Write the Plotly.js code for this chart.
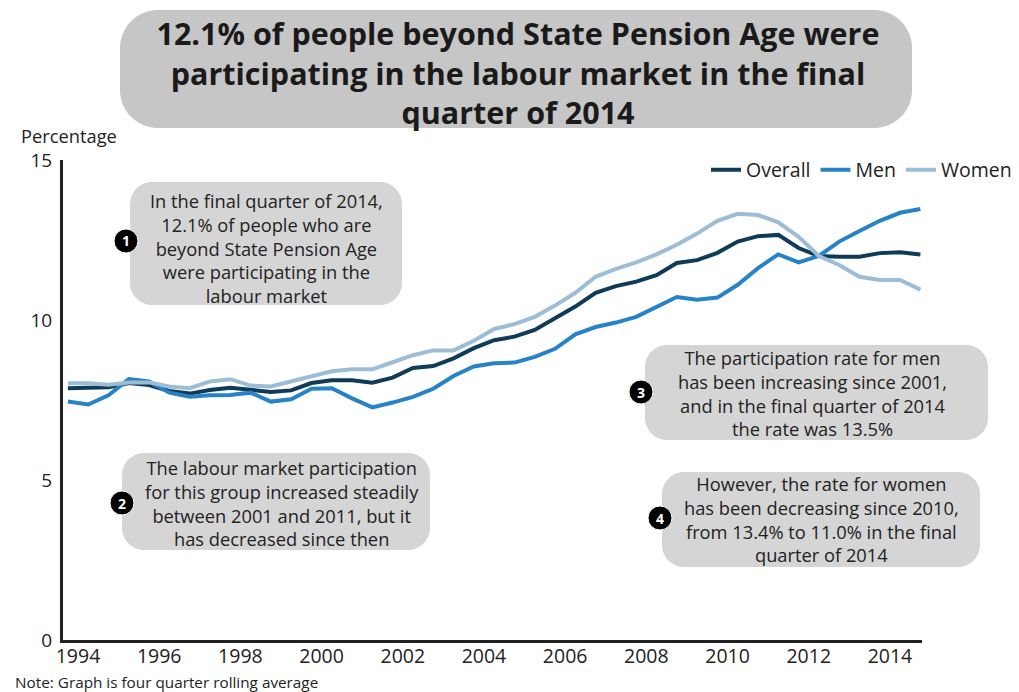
<!DOCTYPE html>
<html>
<head>
<meta charset="utf-8">
<script src="https://cdn.plot.ly/plotly-3.0.1.min.js"></script>
<style>
html,body{margin:0;padding:0;background:#fff;}
#chart{width:1019px;height:692px;}
</style>
</head>
<body>
<div id="chart"></div>
<script>
// ---- Data (half-yearly points, four quarter rolling average) ----
const years = [1993.75,1994.25,1994.75,1995.25,1995.75,1996.25,1996.75,1997.25,1997.75,1998.25,
  1998.75,1999.25,1999.75,2000.25,2000.75,2001.25,2001.75,2002.25,2002.75,2003.25,
  2003.75,2004.25,2004.75,2005.25,2005.75,2006.25,2006.75,2007.25,2007.75,2008.25,
  2008.75,2009.25,2009.75,2010.25,2010.75,2011.25,2011.75,2012.25,2012.75,2013.25,
  2013.75,2014.25,2014.75];
const overall = [7.87,7.87,7.90,8.03,7.97,7.78,7.70,7.81,7.88,7.82,
  7.75,7.80,8.03,8.12,8.12,8.04,8.20,8.50,8.56,8.80,
  9.12,9.37,9.48,9.69,10.06,10.42,10.85,11.06,11.20,11.40,
  11.78,11.87,12.10,12.45,12.62,12.66,12.25,12.00,11.98,11.98,
  12.09,12.12,12.05];
const men = [7.45,7.36,7.65,8.15,8.08,7.73,7.60,7.65,7.66,7.73,
  7.45,7.52,7.85,7.87,7.55,7.27,7.42,7.60,7.85,8.25,
  8.55,8.65,8.67,8.85,9.10,9.55,9.78,9.92,10.10,10.42,
  10.72,10.63,10.70,11.10,11.62,12.05,11.80,12.00,12.45,12.78,
  13.10,13.35,13.47];
const women = [8.02,8.02,7.98,8.05,8.05,7.92,7.87,8.08,8.15,7.95,
  7.92,8.07,8.22,8.40,8.46,8.46,8.68,8.90,9.05,9.05,
  9.35,9.72,9.87,10.10,10.45,10.85,11.35,11.60,11.80,12.05,
  12.35,12.70,13.10,13.32,13.28,13.05,12.60,12.00,11.72,11.35,
  11.25,11.25,10.95];
const seriesNames = ["Overall","Men","Women"];
const xTicks = [1994,1996,1998,2000,2002,2004,2006,2008,2010,2012,2014];
const yTicks = [0,5,10,15];

const titleLines = ["12.1% of people beyond State Pension Age were",
  "participating in the labour market in the final",
  "quarter of 2014"];
const notes = [
  ["In the final quarter of 2014,","12.1% of people who are","beyond State Pension Age","were participating in the","labour market"],
  ["The labour market participation","for this group increased steadily","between 2001 and 2011, but it","has decreased since then"],
  ["The participation rate for men","has been increasing since 2001,","and in the final quarter of 2014","the rate was 13.5%"],
  ["However, the rate for women","has been decreasing since 2010,","from 13.4% to 11.0% in the final","quarter of 2014"]
];
const yLabel = "Percentage";
const noteText = "Note: Graph is four quarter rolling average";

// ---- Layout geometry (pixels) ----
const L = 63, R = 922, T = 160, B = 640;
const W = R - L, H = B - T;
const px = v => (v - L) / W;
const py = v => (B - v) / H;
const FONT = "Open Sans, Noto Sans, sans-serif";
const TXT = "#222";

function rr(x0, y0, x1, y1, r) {
  const k = 0.5523 * r;
  const X = v => px(v).toFixed(5), Y = v => py(v).toFixed(5);
  return `M${X(x0 + r)},${Y(y0)} L${X(x1 - r)},${Y(y0)} ` +
    `C${X(x1 - r + k)},${Y(y0)} ${X(x1)},${Y(y0 + r - k)} ${X(x1)},${Y(y0 + r)} ` +
    `L${X(x1)},${Y(y1 - r)} C${X(x1)},${Y(y1 - r + k)} ${X(x1 - r + k)},${Y(y1)} ${X(x1 - r)},${Y(y1)} ` +
    `L${X(x0 + r)},${Y(y1)} C${X(x0 + r - k)},${Y(y1)} ${X(x0)},${Y(y1 - r + k)} ${X(x0)},${Y(y1 - r)} ` +
    `L${X(x0)},${Y(y0 + r)} C${X(x0)},${Y(y0 + r - k)} ${X(x0 + r - k)},${Y(y0)} ${X(x0 + r)},${Y(y0)} Z`;
}

const boxes = [
  {x0:130, y0:182, x1:402, y1:305, cx:266, cy:248, nx:126, ny:241},
  {x0:122, y0:453, x1:430, y1:550, cx:282, cy:503, nx:122, ny:503},
  {x0:645, y0:345, x1:988, y1:440, cx:812, cy:393, nx:641, ny:392},
  {x0:662, y0:472, x1:980, y1:567, cx:821, cy:519, nx:660, ny:518}
];

const shapes = [{
  type:"path", xref:"paper", yref:"paper", path: rr(120, 10, 912, 128, 38),
  fillcolor:"#c6c6c6", line:{width:0}, layer:"below"
}];
const annotations = [];
boxes.forEach((b, i) => {
  shapes.push({type:"path", xref:"paper", yref:"paper", path: rr(b.x0, b.y0, b.x1, b.y1, 22),
    fillcolor:"#d5d5d5", line:{width:0}, layer:"below"});
  shapes.push({type:"circle", xref:"paper", yref:"paper", xsizemode:"pixel", ysizemode:"pixel",
    xanchor: px(b.nx), yanchor: py(b.ny), x0:-12, x1:12, y0:-12, y1:12,
    fillcolor:"#000", line:{color:"#fff", width:1}, layer:"above"});
  annotations.push({xref:"paper", yref:"paper", x: px(b.nx), y: py(b.ny), text:"<b>" + (i + 1) + "</b>",
    showarrow:false, font:{family:FONT, size:14, color:"#fff"}, xanchor:"center", yanchor:"middle"});
  annotations.push({xref:"paper", yref:"paper", x: px(b.cx), y: py(b.cy), text: notes[i].join("<br>"),
    align:"center", showarrow:false, font:{family:FONT, size:18.3, color:TXT}, xanchor:"center", yanchor:"middle"});
});
annotations.push({xref:"paper", yref:"paper", x: px(19), y: py(136), text: yLabel, showarrow:false,
  xanchor:"left", yanchor:"middle", font:{family:FONT, size:18.3, color:TXT}});
annotations.push({xref:"paper", yref:"paper", x: px(14), y: py(681.5), text: noteText, borderpad:0,
  showarrow:false, xanchor:"left", yanchor:"middle", font:{family:FONT, size:15.3, color:TXT}});

const colors = ["#0d3b58", "#2783c7", "#9dbdd7"];
const data = [overall, men, women].map((vals, i) => ({
  type:"scatter", mode:"lines", x: years, y: vals, name: seriesNames[i],
  line:{color: colors[i], width:4}, hoverinfo:"skip"
}));

const layout = {
  width:1019, height:692,
  margin:{l:L, r:1019 - R, t:T, b:692 - B, pad:0, autoexpand:false},
  paper_bgcolor:"#fff", plot_bgcolor:"#fff",
  font:{family:FONT, size:18, color:TXT},
  title:{text:"<b>" + titleLines.join("<br>") + "</b>", font:{family:FONT, size:30.5, color:"#1a1a1a"},
    xref:"container", yref:"container", x:518/1019, xanchor:"center", y:1 - 45/692, yanchor:"middle",
    automargin:false},
  xaxis:{range:[1993.63, 2014.79], tickvals:xTicks, ticktext:xTicks.map(String), showgrid:false, zeroline:false,
    showline:true, linecolor:"#222", linewidth:3, ticks:"", ticklabelstandoff:-3,
    tickfont:{family:FONT, size:19.5, color:TXT}},
  yaxis:{range:[0, 15], tickvals:yTicks, showgrid:false, zeroline:false, showline:true, linecolor:"#222",
    linewidth:3, ticks:"", ticklabelstandoff:4, tickfont:{family:FONT, size:19, color:TXT}},
  legend:{orientation:"h", x: px(1017), xanchor:"right", y: py(170), yanchor:"middle",
    font:{family:FONT, size:19.5, color:TXT}, bgcolor:"rgba(0,0,0,0)", traceorder:"normal"},
  shapes: shapes, annotations: annotations, showlegend:true
};

Plotly.newPlot("chart", data, layout, {staticPlot:true, displayModeBar:false});
</script>
</body>
</html>
